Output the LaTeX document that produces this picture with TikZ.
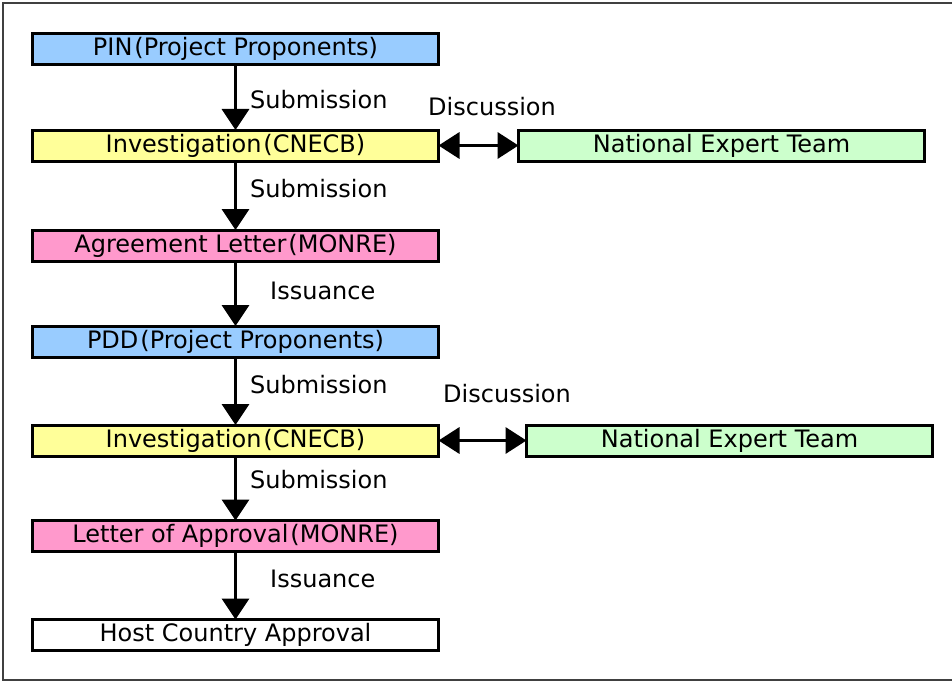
\documentclass[tikz,border=0pt]{standalone}
\usepackage{fontspec}
\setmainfont{DejaVu Sans}
\usetikzlibrary{arrows.meta}
\definecolor{cblue}{HTML}{99CCFF}
\definecolor{cyellow}{HTML}{FFFF99}
\definecolor{cpink}{HTML}{FF99CC}
\definecolor{cgreen}{HTML}{CCFFCC}
\definecolor{frame}{HTML}{404040}
\newcommand\lparen{\hspace{2pt}(}
\newcommand\rparen{)}
\begin{document}
\begin{tikzpicture}[x=1pt,y=-1pt,
  box/.style={draw, line width=3pt, minimum width=406pt, minimum height=31pt, inner sep=0pt, outer sep=0pt,
    font=\fontsize{24}{28}\selectfont},
  lbl/.style={anchor=west, inner sep=0pt, font=\fontsize{24}{28}\selectfont},
  varr/.style={line width=3.6pt, -{Triangle[width=27pt,length=21pt]}},
  harr/.style={line width=3.6pt, {Triangle[width=26pt,length=21pt]}-{Triangle[width=26pt,length=21pt]}}]
\useasboundingbox (0,0) rectangle (952,682);
\clip (0,0) rectangle (952,682);
\draw[frame, line width=2.5pt] (3,3) rectangle (990,680);

\node[box, fill=cblue]   (pin)  at (235.5,49)    {PIN\lparen Project Proponents\rparen};
\node[box, fill=cyellow] (inv1) at (235.5,145.5) {Investigation\lparen CNECB\rparen};
\node[box, fill=cgreen]  (net1) at (721.5,145.5) {National Expert Team};
\node[box, fill=cpink]   (agr)  at (235.5,245.5) {Agreement Letter\lparen MONRE\rparen};
\node[box, fill=cblue]   (pdd)  at (235.5,341.5) {PDD\lparen Project Proponents\rparen};
\node[box, fill=cyellow] (inv2) at (235.5,440.5) {Investigation\lparen CNECB\rparen};
\node[box, fill=cgreen]  (net2) at (729.5,440.5) {National Expert Team};
\node[box, fill=cpink]   (loa)  at (235.5,536)   {Letter of Approval\lparen MONRE\rparen};
\node[box, fill=white]   (host) at (235.5,635)   {Host Country Approval};

\draw[varr] (pin) -- (inv1);
\draw[varr] (inv1) -- (agr);
\draw[varr] (agr) -- (pdd);
\draw[varr] (pdd) -- (inv2);
\draw[varr] (inv2) -- (loa);
\draw[varr] (loa) -- (host);
\draw[harr] (inv1) -- (net1);
\draw[harr] (inv2) -- (net2);

\node[lbl] (s1) at (250,100) {Submission};
\node[lbl] (s2) at (250,189) {Submission};
\node[lbl] (i1) at (270,291) {Issuance};
\node[lbl] (s3) at (250,385) {Submission};
\node[lbl] (s4) at (250,480) {Submission};
\node[lbl] (i2) at (270,579) {Issuance};
\node[lbl] (d1) at (428,107) {Discussion};
\node[lbl] (d2) at (443,394) {Discussion};
\end{tikzpicture}
\end{document}
